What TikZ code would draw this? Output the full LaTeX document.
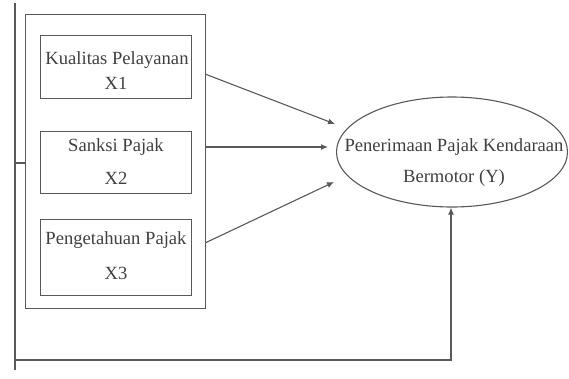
\documentclass[tikz,border=0pt]{standalone}
\usepackage{fontspec}
\setmainfont{Liberation Serif}
\usetikzlibrary{arrows.meta,shapes.geometric}
\begin{document}
\begin{tikzpicture}[x=1pt,y=-1pt,
  line/.style={draw=black!65,line width=1.1pt},
  arr/.style={line,-{Latex[length=7pt,width=6pt]}},
  boxnode/.style={draw=black!65,line width=1.1pt,inner sep=0pt,minimum width=151pt,anchor=north west},
  txt/.style={text=black!75,font=\fontsize{18.6}{22}\selectfont,inner sep=0pt}]
\useasboundingbox (0,0) rectangle (569,378);
\node[boxnode,minimum width=180pt,minimum height=294pt] (outer) at (25,14) {};
\node[boxnode,minimum height=63pt] (b1) at (40,35) {};
\node[boxnode,minimum height=62pt] (b2) at (40,131) {};
\node[boxnode,minimum height=76pt] (b3) at (40,219) {};
\node[txt] (t1a) at (117,60) {Kualitas Pelayanan};
\node[txt] (t1b) at (116,83) {X1};
\node[txt] (t2a) at (116,147) {Sanksi Pajak};
\node[txt] (t2b) at (116,178) {X2};
\node[txt] (t3a) at (116,240) {Pengetahuan Pajak};
\node[txt] (t3b) at (116,273) {X3};
\node[draw=black!65,line width=1.1pt,ellipse,minimum width=231pt,minimum height=110pt,inner sep=0pt] (y) at (452,152) {};
\node[txt] (ya) at (454,147) {Penerimaan Pajak Kendaraan};
\node[txt] (yb) at (454,178) {Bermotor (Y)};
\coordinate (a1) at (205,74);
\coordinate (e1) at (335,124);
\coordinate (a2) at (205,147);
\coordinate (e2) at (328,147);
\coordinate (a3) at (205,243);
\coordinate (e3) at (334,182);
\draw[arr] (a1) -- (e1);
\draw[arr] (a2) -- (e2);
\draw[arr] (a3) -- (e3);
\coordinate (top) at (15,3);
\coordinate (bot) at (15,370);
\coordinate (stub) at (15,163);
\coordinate (corner) at (451,360);
\draw[line] (top) -- (bot);
\draw[line] (stub) -- (stub -| outer.west);
\draw[arr] (15,360) -- (corner) -- (y.south -| corner);
\end{tikzpicture}
\end{document}
